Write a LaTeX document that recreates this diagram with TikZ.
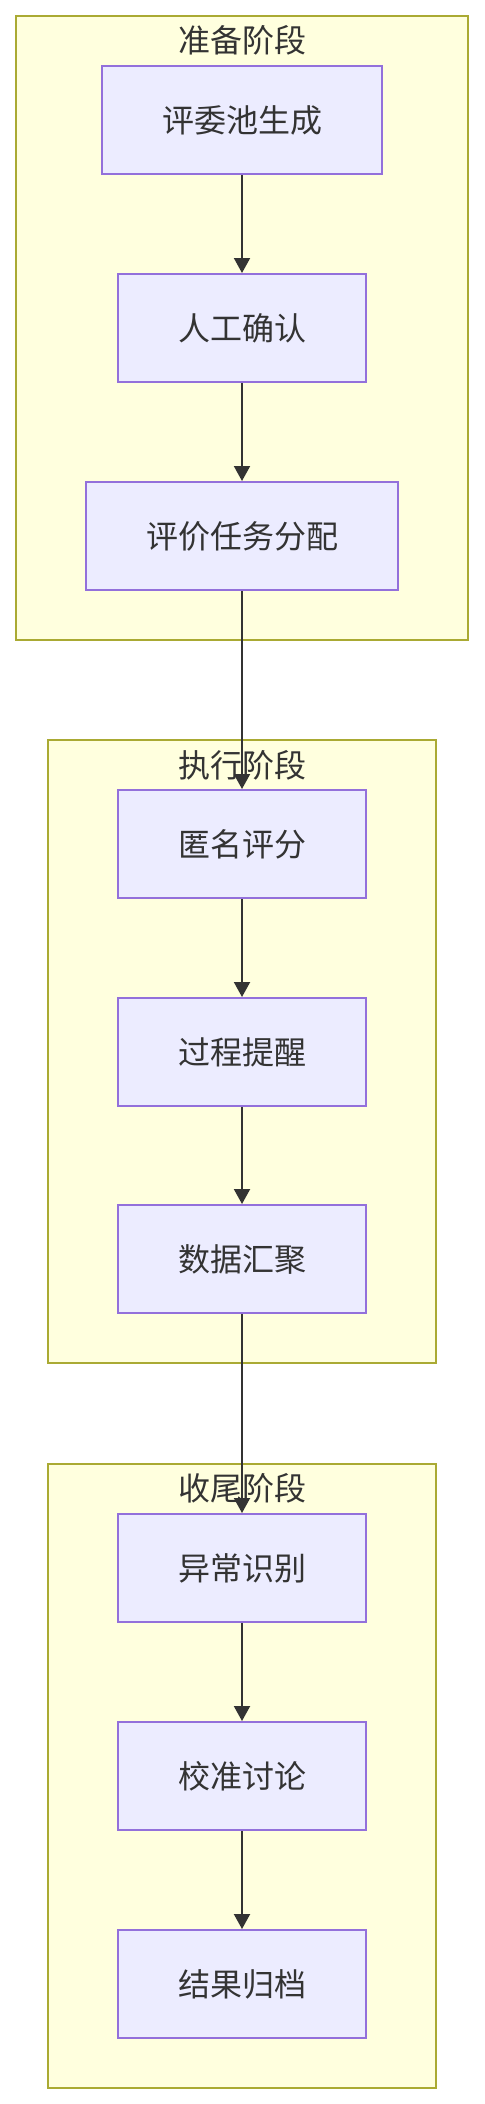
\documentclass[tikz,border=0pt]{standalone}
\usepackage{fontspec}
\setmainfont{Noto Sans CJK SC}
\usetikzlibrary{arrows.meta}
\definecolor{phasefill}{HTML}{FFFFDE}
\definecolor{phaseline}{HTML}{AAAA33}
\definecolor{taskfill}{HTML}{ECECFF}
\definecolor{taskline}{HTML}{9370DB}
\definecolor{ink}{HTML}{333333}

\begin{document}
\begin{tikzpicture}[x=0.5pt,y=-0.5pt,
    phase/.style={draw=phaseline,fill=phasefill,line width=1pt},
    title/.style={text=ink,font=\fontsize{16}{16}\selectfont},
    task/.style={draw=taskline,fill=taskfill,line width=1pt,text=ink,
      font=\fontsize{16}{16}\selectfont,minimum height=54pt,inner xsep=30pt},
    flow/.style={draw=ink,line width=1pt,-{Triangle[length=7.5pt,width=8pt]}}]
    \useasboundingbox (0,0) rectangle (484,2104);
    \draw[phase] (16,16) rectangle (468,640);
    \draw[phase] (48,740) rectangle (436,1363);
    \draw[phase] (48,1464) rectangle (436,2088);
    \node[title] (prep) at (242,40) {准备阶段};
    \node[title] (exec) at (242,765) {执行阶段};
    \node[title] (wrap) at (242,1488) {收尾阶段};
    \node[task] (pool) at (242,120) {评委池生成};
    \node[task] (confirm) at (242,328) {人工确认};
    \node[task] (assign) at (242,536) {评价任务分配};
    \node[task] (score) at (242,844) {匿名评分};
    \node[task] (remind) at (242,1052) {过程提醒};
    \node[task] (gather) at (242,1259) {数据汇聚};
    \node[task] (anomaly) at (242,1568) {异常识别};
    \node[task] (calib) at (242,1776) {校准讨论};
    \node[task] (archive) at (242,1984) {结果归档};
    \draw[flow] (pool) -- (confirm);
    \draw[flow] (confirm) -- (assign);
    \draw[flow] (assign) -- (score);
    \draw[flow] (score) -- (remind);
    \draw[flow] (remind) -- (gather);
    \draw[flow] (gather) -- (anomaly);
    \draw[flow] (anomaly) -- (calib);
    \draw[flow] (calib) -- (archive);
  \end{tikzpicture}
\end{document}
